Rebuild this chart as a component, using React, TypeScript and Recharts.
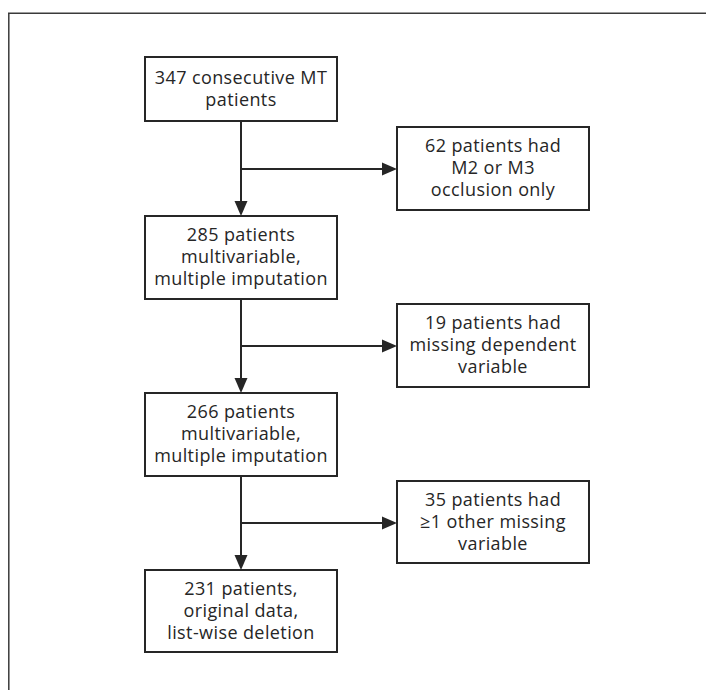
import React from "react";
import { ReferenceArea, ReferenceLine, Scatter, ScatterChart, XAxis, YAxis } from "recharts";

// Flowchart laid out in page pixel units; the axes map them onto the chart.
const mainLabels = [
  ["347 consecutive MT", "patients"],
  ["285 patients", "multivariable,", "multiple imputation"],
  ["266 patients", "multivariable,", "multiple imputation"],
  ["231 patients,", "original data,", "list-wise deletion"],
];
const mainTops = [57, 216, 393, 570];
const mainBottoms = [121, 299, 476, 652];

const exclusionLabels = [
  ["62 patients had", "M2 or M3", "occlusion only"],
  ["19 patients had", "missing dependent", "variable"],
  ["35 patients had", "≥1 other missing", "variable"],
];
const exclusionTops = [127, 304, 481];
const exclusionBottoms = [210, 387, 563];
const branchY = [169, 346, 523];

const mainCol = [145, 337];
const sideCol = [397, 589];
const spineX = 241;

const INK = "#262626";
const FONT = "'Open Sans', 'Noto Sans', sans-serif";

type Label = { x: number; y: number; lines: string[] };
type Tip = { x: number; y: number; dir: "down" | "right" };

const labels: Label[] = [
  ...mainLabels.map((lines, i) => ({
    x: (mainCol[0] + mainCol[1]) / 2,
    y: (mainTops[i] + mainBottoms[i]) / 2,
    lines,
  })),
  ...exclusionLabels.map((lines, i) => ({
    x: (sideCol[0] + sideCol[1]) / 2,
    y: (exclusionTops[i] + exclusionBottoms[i]) / 2,
    lines,
  })),
];

const tips: Tip[] = [
  ...mainTops.slice(1).map((t) => ({ x: spineX, y: t, dir: "down" as const })),
  ...branchY.map((y) => ({ x: sideCol[0], y, dir: "right" as const })),
];

function LabelShape(props: any) {
  const { cx, cy, payload } = props;
  const lines: string[] = payload.lines;
  const first = cy + 5.5 - (lines.length - 1) * 11;
  return (
    <text x={cx} y={first} textAnchor="middle" fill={INK} fontFamily={FONT} fontSize={18} letterSpacing={0.4}>
      {lines.map((l, i) => (
        <tspan key={i} x={cx} y={first + i * 22}>
          {l}
        </tspan>
      ))}
    </text>
  );
}

function TipShape(props: any) {
  const { cx, cy, payload } = props;
  const d =
    payload.dir === "down"
      ? `M${cx},${cy} L${cx - 6.5},${cy - 15} L${cx + 6.5},${cy - 15} Z`
      : `M${cx},${cy} L${cx - 15},${cy - 6.5} L${cx - 15},${cy + 6.5} Z`;
  return <path d={d} fill={INK} stroke="none" />;
}

export default function App() {
  return (
    <ScatterChart width={706} height={682} margin={{ top: 0, right: 0, bottom: 0, left: 0 }}>
      <XAxis type="number" dataKey="x" domain={[8, 714]} hide allowDataOverflow />
      <YAxis type="number" dataKey="y" domain={[8, 690]} reversed hide allowDataOverflow />

      {/* frame */}
      <ReferenceLine segment={[{ x: 8.8, y: 13.3 }, { x: 8.8, y: 690 }]} stroke="#3a3a3a" strokeWidth={1.5} ifOverflow="visible" />
      <ReferenceLine segment={[{ x: 8, y: 13.3 }, { x: 714, y: 13.3 }]} stroke="#3a3a3a" strokeWidth={1.5} ifOverflow="visible" />

      {mainTops.map((t, i) => (
        <ReferenceArea
          key={`m${i}`}
          x1={mainCol[0]}
          x2={mainCol[1]}
          y1={t}
          y2={mainBottoms[i]}
          fill="none"
          stroke={INK}
          strokeWidth={2}
          ifOverflow="visible"
        />
      ))}
      {exclusionTops.map((t, i) => (
        <ReferenceArea
          key={`e${i}`}
          x1={sideCol[0]}
          x2={sideCol[1]}
          y1={t}
          y2={exclusionBottoms[i]}
          fill="none"
          stroke={INK}
          strokeWidth={2}
          ifOverflow="visible"
        />
      ))}

      {mainBottoms.slice(0, -1).map((b, i) => (
        <ReferenceLine
          key={`v${i}`}
          segment={[{ x: spineX, y: b }, { x: spineX, y: mainTops[i + 1] - 8 }]}
          stroke={INK}
          strokeWidth={2}
          ifOverflow="visible"
        />
      ))}
      {branchY.map((y, i) => (
        <ReferenceLine
          key={`h${i}`}
          segment={[{ x: spineX, y }, { x: sideCol[0] - 8, y }]}
          stroke={INK}
          strokeWidth={2}
          ifOverflow="visible"
        />
      ))}

      <Scatter data={tips} shape={TipShape} isAnimationActive={false} />
      <Scatter data={labels} shape={LabelShape} isAnimationActive={false} />
    </ScatterChart>
  );
}
